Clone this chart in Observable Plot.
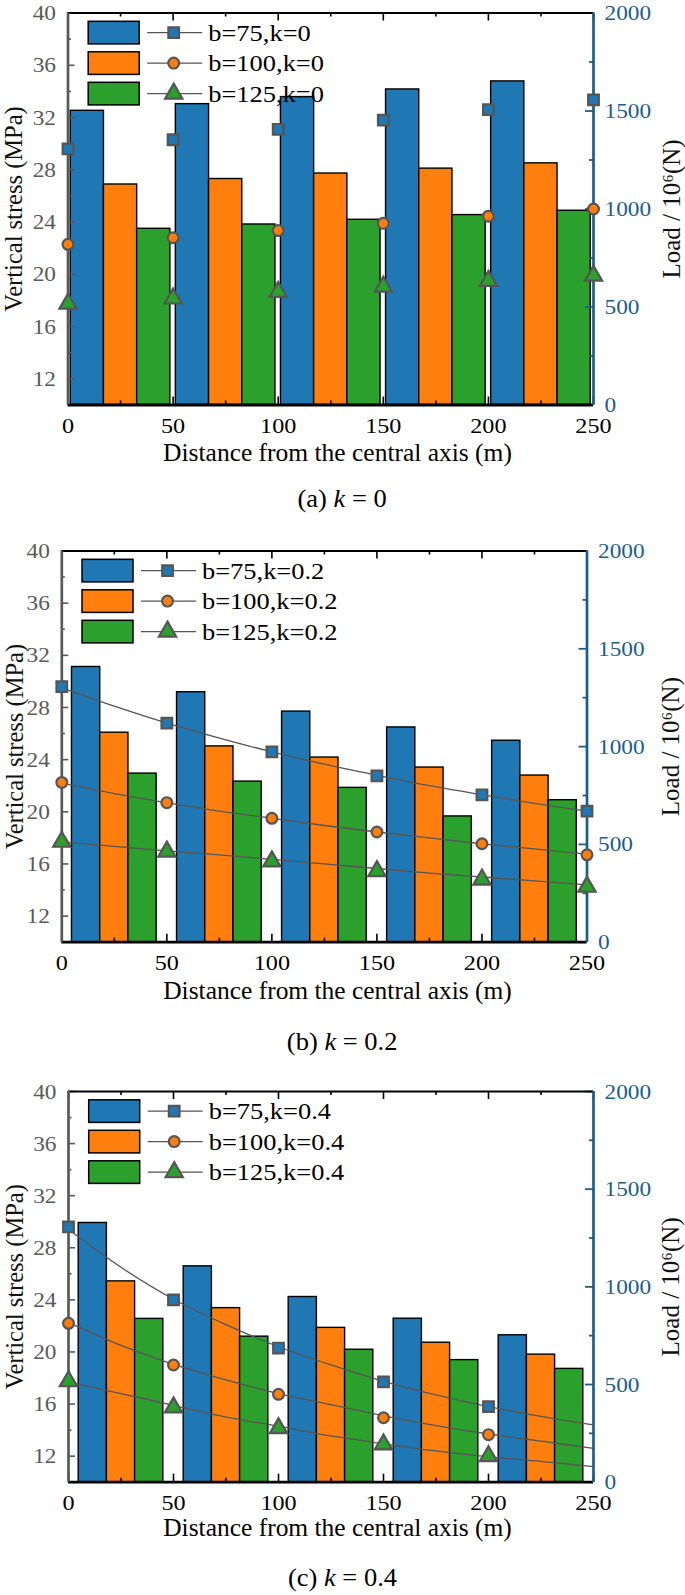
<!DOCTYPE html>
<html><head><meta charset="utf-8">
<script src="https://cdn.jsdelivr.net/npm/d3@7"></script>
<script src="https://cdn.jsdelivr.net/npm/@observablehq/plot@0.6"></script>
<style>
body{margin:0;background:#fff;}
#root{position:relative;width:685px;height:1595px;overflow:hidden;font-family:"Liberation Serif","Times New Roman",Times,"DejaVu Serif",serif;}
.panel{position:absolute;left:0;}
.cap{position:absolute;left:0;width:685px;text-align:center;font-size:25px;line-height:25px;color:#000;font-family:"Liberation Serif","Times New Roman",Times,"DejaVu Serif",serif;}
.cap span{display:inline-block;transform:scaleX(1.06);}
</style></head><body><div id="root"></div>
<script>
// ---------- data ----------
const groupStarts = [0, 50, 100, 150, 200];          // bar groups (distance, m)
const markerXAll = [0, 50, 100, 150, 200, 250];       // marker positions (distance, m)
const markerXC = [0, 50, 100, 150, 200];
const curveX = [0, 25, 50, 75, 100, 125, 150, 175, 200, 225, 250];
const xLabels = [0, 50, 100, 150, 200, 250];
const xMinor = [25, 75, 125, 175, 225];
const stressLabels = [12, 16, 20, 24, 28, 32, 36, 40];
const stressMinor = [14, 18, 22, 26, 30, 34, 38];
const loadLabels = [0, 500, 1000, 1500, 2000];
const loadMinor = [250, 750, 1250, 1750];
const bValues = [75, 100, 125];
const xTitle = "Distance from the central axis (m)";
const yTitle = "Vertical stress (MPa)";
const y2Title = "Load / 10\u2076(N)";

// panel (a) k = 0 : bars = load (10^6 N), markers = vertical stress (MPa)
const loadA75  = [1501, 1535, 1571, 1610, 1651];
const loadA100 = [1125, 1153, 1181, 1206, 1233];
const loadA125 = [899, 921, 945, 969, 991];
const stressA75  = [29.6, 30.3, 31.1, 31.8, 32.6, 33.35];
const stressA100 = [22.3, 22.8, 23.35, 23.9, 24.45, 25.0];
const stressA125 = [17.75, 18.15, 18.65, 19.05, 19.5, 19.9];

// panel (b) k = 0.2
const loadB75  = [1407, 1278, 1179, 1098, 1030];
const loadB100 = [1071, 1001, 944, 893, 852];
const loadB125 = [862, 821, 789, 643, 726];
const stressB75  = [29.6, 26.8, 24.6, 22.75, 21.3, 20.05];
const stressB100 = [22.25, 20.7, 19.5, 18.45, 17.55, 16.7];
const stressB125 = [17.7, 16.95, 16.2, 15.45, 14.8, 14.25];
const curveB75  = [29.5, 28.1, 26.8, 25.65, 24.6, 23.65, 22.8, 22.0, 21.3, 20.65, 20.05];
const curveB100 = [22.2, 21.4, 20.7, 20.05, 19.5, 18.95, 18.45, 18.0, 17.55, 17.15, 16.75];
const curveB125 = [17.7, 17.35, 17.0, 16.7, 16.35, 16.0, 15.65, 15.3, 15.0, 14.7, 14.4];

// panel (c) k = 0.4
const loadC75  = [1327, 1105, 948, 837, 752];
const loadC100 = [1028, 891, 790, 714, 653];
const loadC125 = [836, 745, 678, 625, 580];
const stressC75  = [29.6, 24.0, 20.3, 17.7, 15.8];
const stressC100 = [22.2, 19.0, 16.75, 14.95, 13.65];
const stressC125 = [17.75, 15.75, 14.15, 12.9, 12.0];
const curveC75  = [29.4, 26.5, 24.05, 22.1, 20.4, 19.0, 17.75, 16.7, 15.8, 15.05, 14.4];
const curveC100 = [22.25, 20.5, 19.05, 17.85, 16.8, 15.95, 15.1, 14.35, 13.7, 13.15, 12.6];
const curveC125 = [17.7, 16.8, 15.9, 15.0, 14.3, 13.55, 12.95, 12.4, 11.95, 11.6, 11.2];

// ---------- styles ----------
const colors = ["#1f77b4", "#ff7f0e", "#2ca02c"];
const symbols = ["square", "circle", "triangle"];
const symbolR = [6, 5.4, 6.4];
const rightBlue = "#1d5d8a";
const FONT = "'Liberation Serif', 'Times New Roman', Times, 'DejaVu Serif', serif";

// load (right axis, 0..2000) mapped onto the stress scale (left axis, 10..40)
const toY = load => 10 + load * 30 / 2000;

const panels = [
  {letter: "a", k: "0", svgTop: 0, mt: 12.5, fh: 392, ml: 67.5, mr: 92, gw: 47.4, titleDy: 48.5, leftTitleX: 13.5, capY: 498.7,
   loads: [loadA75, loadA100, loadA125], stress: [stressA75, stressA100, stressA125], markerX: markerXAll, curves: null},
  {letter: "b", k: "0.2", svgTop: 536, mt: 14.5, fh: 391.2, ml: 61.3, mr: 98.5, gw: 40.3, titleDy: 49, leftTitleX: 14.5, capY: 1041,
   loads: [loadB75, loadB100, loadB125], stress: [stressB75, stressB100, stressB125], markerX: markerXAll, curves: [curveB75, curveB100, curveB125]},
  {letter: "c", k: "0.4", svgTop: 1077, mt: 14, fh: 390.7, ml: 68, mr: 92, gw: 40.3, titleDy: 46, leftTitleX: 14.5, capY: 1577.6,
   loads: [loadC75, loadC100, loadC125], stress: [stressC75, stressC100, stressC125], markerX: markerXC, curves: [curveC75, curveC100, curveC125]}
];

const root = document.getElementById("root");

// widen glyphs horizontally (the reference type is a little expanded)
function stretch(sel, factor) {
  sel.each(function () {
    const len = this.getComputedTextLength();
    if (len > 0) {
      this.setAttribute("textLength", (len * factor).toFixed(2));
      this.setAttribute("lengthAdjust", "spacingAndGlyphs");
    }
  });
}

panels.forEach(cfg => {
  const W = 685, mb = 66;
  const H = cfg.mt + cfg.fh + mb;
  const fw = W - cfg.ml - cfg.mr, fh = cfg.fh;
  const right = W - cfg.mr;
  const marks = [];

  // bars
  cfg.loads.forEach((arr, j) => {
    const data = arr.map((v, i) => {
      const x1 = groupStarts[i] + 25 - cfg.gw / 2 + j * cfg.gw / 3;
      return {x1, x2: x1 + cfg.gw / 3, y: toY(v)};
    });
    marks.push(Plot.rect(data, {x1: "x1", x2: "x2", y1: 10, y2: "y", fill: colors[j], stroke: "#000", strokeWidth: 1.4}));
  });

  // inward ticks
  marks.push(Plot.ruleX(xLabels, {x: d => d, stroke: "#000", strokeWidth: 1.6, insetTop: fh - 8}));
  marks.push(Plot.ruleX(xMinor, {x: d => d, stroke: "#000", strokeWidth: 1.6, insetTop: fh - 4}));
  marks.push(Plot.ruleX(xLabels, {x: d => d, stroke: "#000", strokeWidth: 1.6, insetBottom: fh - 8}));
  marks.push(Plot.ruleX(xMinor, {x: d => d, stroke: "#000", strokeWidth: 1.6, insetBottom: fh - 4}));
  marks.push(Plot.ruleY(stressLabels, {y: d => d, stroke: "#595959", strokeWidth: 1.6, insetRight: fw - 7}));
  marks.push(Plot.ruleY(stressMinor, {y: d => d, stroke: "#595959", strokeWidth: 1.6, insetRight: fw - 3.5}));
  marks.push(Plot.ruleY(loadLabels, {y: d => toY(d), stroke: rightBlue, strokeWidth: 1.8, insetLeft: fw - 8}));
  marks.push(Plot.ruleY(loadMinor, {y: d => toY(d), stroke: rightBlue, strokeWidth: 1.8, insetLeft: fw - 4}));

  // frame lines
  marks.push(Plot.ruleY([40], {y: d => d, stroke: "#000", strokeWidth: 2}));
  marks.push(Plot.ruleY([10], {y: d => d, stroke: "#000", strokeWidth: 2.8}));
  marks.push(Plot.ruleX([0], {x: d => d, stroke: "#595959", strokeWidth: 2.7}));
  marks.push(Plot.ruleX([250], {x: d => d, stroke: rightBlue, strokeWidth: 2.7}));

  // fitted curves
  if (cfg.curves) {
    cfg.curves.forEach(c => {
      marks.push(Plot.line(curveX.map((x, i) => ({x, y: c[i]})), {x: "x", y: "y", curve: "monotone-x", stroke: "#555", strokeWidth: 1.3}));
    });
  }

  // markers
  cfg.stress.forEach((s, j) => {
    marks.push(Plot.dot(cfg.markerX.map((x, i) => ({x, y: s[i]})), {x: "x", y: "y", symbol: symbols[j], r: symbolR[j], fill: colors[j], stroke: "#555", strokeWidth: 2.2}));
  });

  // axes (labels only; ticks drawn inward above)
  marks.push(Plot.axisX({anchor: "bottom", ticks: xLabels, tickSize: 0, tickPadding: 12, fontSize: 22, fill: "#000", label: null}));
  marks.push(Plot.axisY({anchor: "left", ticks: stressLabels, tickSize: 0, tickPadding: 12, fontSize: 22, fill: "#595959", label: null}));
  marks.push(Plot.axisY({anchor: "right", ticks: loadLabels.map(toY), tickFormat: d => String(Math.round((d - 10) * 2000 / 30)), tickSize: 0, tickPadding: 11, fontSize: 22, fill: rightBlue, label: null}));

  // axis titles
  marks.push(Plot.text([xTitle], {text: d => d, frameAnchor: "bottom", lineAnchor: "middle", textAnchor: "middle", dy: cfg.titleDy, dx: 337 - (cfg.ml + right) / 2, fontSize: 24.5, fill: "#000"}));
  marks.push(Plot.text([yTitle], {text: d => d, frameAnchor: "left", lineAnchor: "middle", textAnchor: "middle", rotate: -90, dx: cfg.leftTitleX - cfg.ml, fontSize: 24.5, fill: "#111"}));
  marks.push(Plot.text([y2Title], {text: d => d, frameAnchor: "right", lineAnchor: "middle", textAnchor: "middle", rotate: -90, dx: 671 - right, fontSize: 25, fill: "#111"}));

  const svg = Plot.plot({
    width: W, height: H,
    marginTop: cfg.mt, marginBottom: mb, marginLeft: cfg.ml, marginRight: cfg.mr,
    x: {domain: [0, 250]},
    y: {domain: [10, 40]},
    style: {fontFamily: FONT, background: "white", overflow: "visible"},
    marks
  });
  svg.style.fontFamily = FONT;

  // legend (inside the frame, top-left)
  const g = d3.select(svg).append("g").attr("transform", `translate(${cfg.ml + 20.7},${cfg.mt + 8.8})`)
    .attr("text-anchor", "start");
  bValues.forEach((b, j) => {
    const y = j * 30.5, cy = y + 11.3;
    g.append("rect").attr("x", 0).attr("y", y).attr("width", 51).attr("height", 22.6)
      .attr("fill", colors[j]).attr("stroke", "#000").attr("stroke-width", 1.5);
    g.append("line").attr("x1", 59).attr("x2", 114).attr("y1", cy).attr("y2", cy)
      .attr("stroke", "#555").attr("stroke-width", 1.3);
    const symType = [d3.symbolSquare, d3.symbolCircle, d3.symbolTriangle][j];
    g.append("path").attr("d", d3.symbol(symType, Math.PI * symbolR[j] * symbolR[j])())
      .attr("transform", `translate(85.5,${cy})`)
      .attr("fill", colors[j]).attr("stroke", "#555").attr("stroke-width", 2.2);
    g.append("text").attr("class", "legend-label").attr("x", 120).attr("y", cy).attr("dy", "0.35em")
      .attr("text-anchor", "start")
      .attr("font-size", 23).style("font-family", FONT).attr("fill", "#000")
      .text(`b=${b},k=${cfg.k}`);
  });

  const div = document.createElement("div");
  div.className = "panel";
  div.style.top = cfg.svgTop + "px";
  div.appendChild(svg);
  root.appendChild(div);

  // horizontal expansion of upright texts, measured once in the DOM
  const s = d3.select(svg);
  stretch(s.selectAll('g[aria-label="x-axis tick label"] text'), 1.1);
  stretch(s.selectAll('g[aria-label="y-axis tick label"] text'), 1.06);
  stretch(s.selectAll("text.legend-label"), 1.15);
  stretch(s.selectAll("text").filter(function () { return this.textContent === xTitle; }), 1.04);

  const cap = document.createElement("div");
  cap.className = "cap";
  cap.style.top = (cfg.capY - 12.5) + "px";
  cap.innerHTML = `<span>(${cfg.letter}) <i>k</i> = ${cfg.k}</span>`;
  root.appendChild(cap);
});
</script>
</body></html>
